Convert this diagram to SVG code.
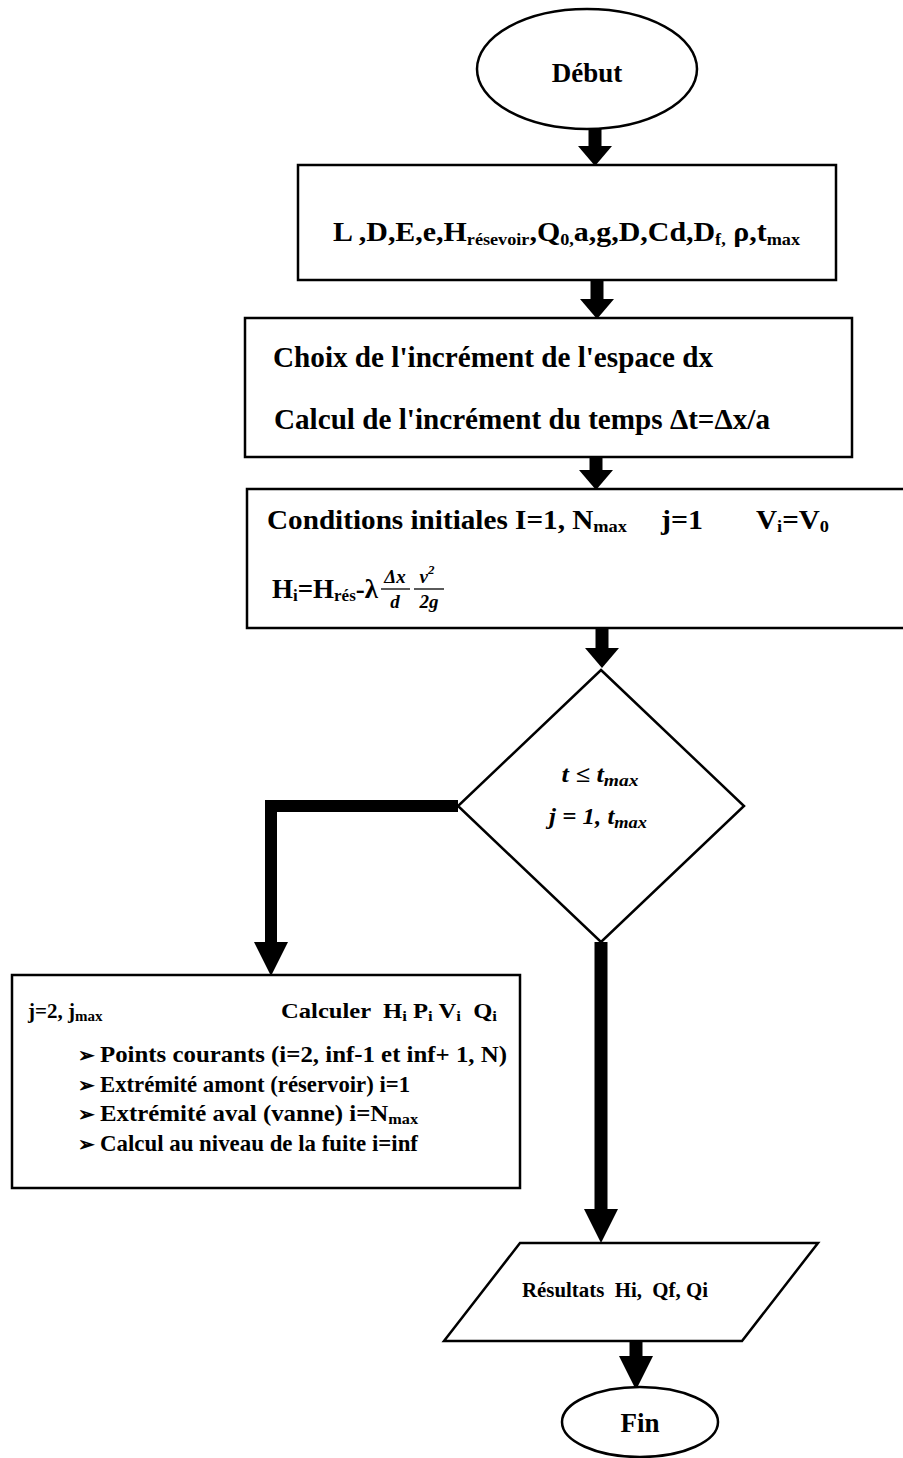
<svg xmlns="http://www.w3.org/2000/svg" width="903" height="1458" viewBox="0 0 903 1458">
<defs>
<style>
.shape{fill:#fff;stroke:#000;stroke-width:2.5}
.t{font-family:"Liberation Serif","Times New Roman",serif;font-weight:bold;fill:#000}
.m{font-family:"Liberation Serif","Times New Roman",serif;font-weight:bold;font-style:italic;fill:#000}
.conn{fill:none;stroke:#000;stroke-width:13}
</style>
<marker id="hs" markerUnits="userSpaceOnUse" markerWidth="20" markerHeight="34" refX="0" refY="17" orient="auto"><path d="M0,0 L20,17 L0,34 Z" fill="#000"/></marker>
<marker id="hl" markerUnits="userSpaceOnUse" markerWidth="34" markerHeight="34" refX="0" refY="17" orient="auto"><path d="M0,0 L34,17 L0,34 Z" fill="#000"/></marker>
</defs>
<rect width="903" height="1458" fill="#fff"/>

<g id="connectors">
<line class="conn" x1="595" y1="129" x2="595" y2="146" marker-end="url(#hs)"/>
<line class="conn" x1="597" y1="281" x2="597" y2="299" marker-end="url(#hs)"/>
<line class="conn" x1="596" y1="458" x2="596" y2="470" marker-end="url(#hs)"/>
<line class="conn" x1="602" y1="629" x2="602" y2="648" marker-end="url(#hs)"/>
<polyline class="conn" style="stroke-width:12" points="458,806 271,806 271,942" marker-end="url(#hl)"/>
<line class="conn" x1="601" y1="942" x2="601" y2="1209" marker-end="url(#hl)"/>
<line class="conn" x1="636" y1="1342" x2="636" y2="1356" marker-end="url(#hl)"/>
</g>

<g id="debut">
<ellipse class="shape" cx="587" cy="69" rx="110" ry="60"/>
<text class="t" x="587" y="82" font-size="27" text-anchor="middle">Début</text>
</g>

<g id="donnees">
<rect class="shape" x="298" y="165" width="538" height="115"/>
<text class="t" x="333" y="241" font-size="28" textLength="467" lengthAdjust="spacingAndGlyphs">L ,D,E,e,H<tspan font-size="17" dy="4">résevoir</tspan><tspan dy="-4">,Q</tspan><tspan font-size="17" dy="4">0,</tspan><tspan dy="-4">a,g,D,Cd,D</tspan><tspan font-size="17" dy="4">f,</tspan><tspan dy="-4"> ρ,t</tspan><tspan font-size="17" dy="4">max</tspan></text>
</g>

<g id="increments">
<rect class="shape" x="245" y="318" width="607" height="139"/>
<text class="t" x="273" y="367" font-size="29" textLength="440" lengthAdjust="spacingAndGlyphs">Choix de l'incrément de l'espace dx</text>
<text class="t" x="274" y="429" font-size="29" textLength="496" lengthAdjust="spacingAndGlyphs">Calcul de l'incrément du temps Δt=Δx/a</text>
</g>

<g id="conditions">
<rect class="shape" x="247" y="489" width="660" height="139"/>
<text class="t" x="267" y="529" font-size="27" textLength="360" lengthAdjust="spacingAndGlyphs">Conditions initiales I=1, N<tspan font-size="17" dy="3">max</tspan></text>
<text class="t" x="661" y="529" font-size="27" textLength="42" lengthAdjust="spacingAndGlyphs">j=1</text>
<text class="t" x="756" y="529" font-size="27" textLength="73" lengthAdjust="spacingAndGlyphs">V<tspan font-size="17" dy="3">i</tspan><tspan dy="-3">=V</tspan><tspan font-size="17" dy="3">0</tspan></text>
<text class="t" x="272" y="598" font-size="27" textLength="106" lengthAdjust="spacingAndGlyphs">H<tspan font-size="17" dy="3">i</tspan><tspan dy="-3">=H</tspan><tspan font-size="17" dy="3">rés</tspan><tspan dy="-3">-λ</tspan></text>
<text class="m" x="395" y="583" font-size="19" text-anchor="middle">Δx</text>
<line x1="381" y1="589" x2="410" y2="589" stroke="#000" stroke-width="1.3"/>
<text class="m" x="395" y="608" font-size="19" text-anchor="middle">d</text>
<text class="m" x="427" y="583" font-size="19" text-anchor="middle">v<tspan font-size="13" dy="-9">2</tspan></text>
<line x1="414" y1="589" x2="444" y2="589" stroke="#000" stroke-width="1.3"/>
<text class="m" x="429" y="608" font-size="19" text-anchor="middle">2g</text>
</g>

<g id="test">
<polygon class="shape" points="601,670 744,806 601,942 458,806"/>
<text class="m" x="600" y="782" font-size="23" text-anchor="middle" textLength="77" lengthAdjust="spacingAndGlyphs">t ≤ t<tspan font-size="17" dy="4">max</tspan></text>
<text class="m" x="598" y="824" font-size="23" text-anchor="middle" textLength="98" lengthAdjust="spacingAndGlyphs">j = 1, t<tspan font-size="17" dy="4">max</tspan></text>
</g>

<g id="calcul">
<rect class="shape" x="12" y="975" width="508" height="213"/>
<text class="t" x="28" y="1018" font-size="21">j=2, j<tspan font-size="15" dy="3">max</tspan></text>
<text class="t" x="281" y="1018" font-size="22" xml:space="preserve" textLength="216" lengthAdjust="spacingAndGlyphs">Calculer  H<tspan font-size="15" dy="3">i</tspan><tspan dy="-3"> P</tspan><tspan font-size="15" dy="3">i</tspan><tspan dy="-3"> V</tspan><tspan font-size="15" dy="3">i</tspan><tspan dy="-3">  Q</tspan><tspan font-size="15" dy="3">i</tspan></text>
<text class="t" x="78" y="1062" font-size="20">➢</text>
<text class="t" x="78" y="1092" font-size="20">➢</text>
<text class="t" x="78" y="1121" font-size="20">➢</text>
<text class="t" x="78" y="1151" font-size="20">➢</text>
<text class="t" x="100" y="1062" font-size="23" textLength="407" lengthAdjust="spacingAndGlyphs">Points courants (i=2, inf-1 et inf+ 1, N)</text>
<text class="t" x="100" y="1092" font-size="23" textLength="310" lengthAdjust="spacingAndGlyphs">Extrémité amont (réservoir) i=1</text>
<text class="t" x="100" y="1121" font-size="23" textLength="318" lengthAdjust="spacingAndGlyphs">Extrémité aval (vanne) i=N<tspan font-size="15" dy="3">max</tspan></text>
<text class="t" x="100" y="1151" font-size="23" textLength="318" lengthAdjust="spacingAndGlyphs">Calcul au niveau de la fuite i=inf</text>
</g>

<g id="resultats">
<polygon class="shape" points="520,1243 818,1243 742,1341 444,1341"/>
<text class="t" x="522" y="1297" font-size="20" xml:space="preserve" textLength="186" lengthAdjust="spacingAndGlyphs">Résultats  Hi,  Qf, Qi</text>
</g>

<g id="fin">
<ellipse class="shape" cx="640" cy="1422" rx="78" ry="35"/>
<text class="t" x="640" y="1432" font-size="27" text-anchor="middle">Fin</text>
</g>
</svg>
